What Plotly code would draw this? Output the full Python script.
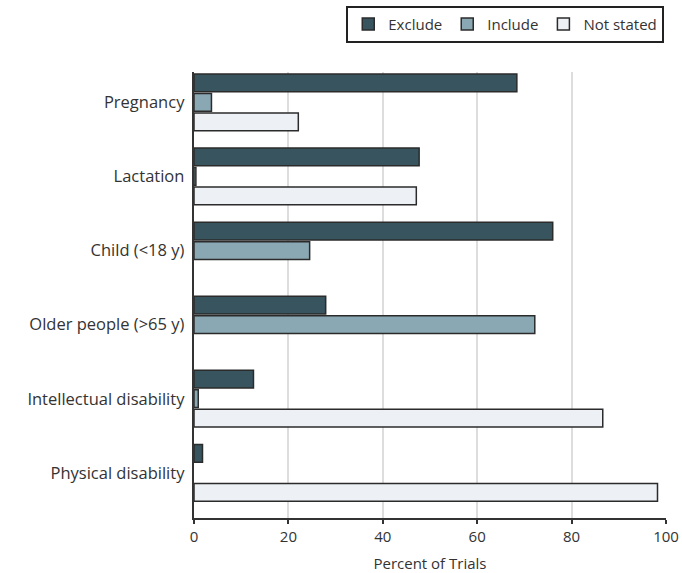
import plotly.graph_objects as go

categories = ["Pregnancy", "Lactation", "Child (<18 y)", "Older people (>65 y)",
              "Intellectual disability", "Physical disability"]
exclude = [68.4, 47.7, 76.0, 27.9, 12.6, 1.8]
include = [3.7, 0.4, 24.5, 72.2, 0.9, None]
not_stated = [22.1, 47.1, None, None, 86.6, 98.2]
x_ticks = [0, 20, 40, 60, 80, 100]

series = [("Exclude", exclude, "#37545f"),
          ("Include", include, "#8aa8b4"),
          ("Not stated", not_stated, "#edf1f5")]

fig = go.Figure()
for name, vals, col in series:
    fig.add_trace(go.Bar(
        y=categories, x=vals, name=name, orientation="h",
        marker=dict(color=col, line=dict(color="#2b2b2b", width=1.5)),
    ))

font = dict(family="Open Sans, sans-serif", size=14, color="#333333")

fig.update_layout(
    width=682, height=573,
    margin=dict(l=194, r=16, t=72, b=55, autoexpand=False),
    barmode="group", bargap=0.21, bargroupgap=0.09,
    plot_bgcolor="white", paper_bgcolor="white",
    font=font,
    showlegend=True,
    legend=dict(orientation="h", xref="container", yref="container",
                x=0.974, xanchor="right", y=0.99, yanchor="top",
                bordercolor="#222222", borderwidth=2, font=dict(size=15, color="#333333"),
                traceorder="normal"),
    xaxis=dict(range=[0, 100], tickvals=x_ticks, showgrid=True, gridcolor="#dddddd",
               gridwidth=1.5, showline=True, linecolor="#333333", linewidth=2,
               ticks="outside", ticklen=4, tickcolor="#333333", tickwidth=1.5,
               zeroline=False, automargin=False, tickfont=dict(size=15),
               title=dict(text="Percent of Trials", standoff=16, font=dict(size=15))),
    yaxis=dict(categoryorder="array", categoryarray=categories, automargin=False,
               range=[5.61, -0.41], showline=True, linecolor="#333333", linewidth=2,
               ticks="", showgrid=False, ticksuffix=" ", tickfont=dict(size=16.5)),
)

fig.write_html("out.html", config={"displayModeBar": False},
               post_script="document.body.style.margin='0';")
